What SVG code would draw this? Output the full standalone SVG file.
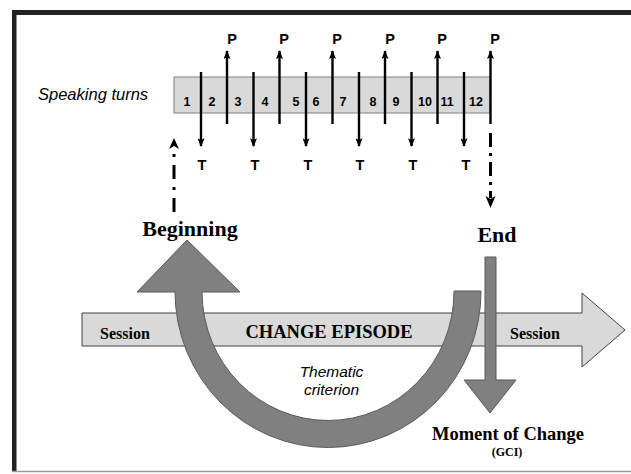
<svg xmlns="http://www.w3.org/2000/svg" width="631" height="474" viewBox="0 0 631 474">
  <style>
    .turn { font-family: "Liberation Sans", Arial, sans-serif; font-weight: bold; font-size: 12.5px; fill: #000; text-anchor: middle; }
    .pt { font-family: "Liberation Sans", Arial, sans-serif; font-weight: bold; font-size: 14.5px; fill: #000; text-anchor: middle; }
    .serifb { font-family: "Liberation Serif", "Times New Roman", serif; font-weight: bold; fill: #000; }
    .ital { font-family: "Liberation Sans", Arial, sans-serif; font-style: italic; fill: #000; }
    .tick { stroke: #000; stroke-width: 2.4; fill: none; marker-end: url(#head); }
    .dashdot { stroke: #000; stroke-width: 3; fill: none; }
    .bigarrow { fill: #808080; stroke: #595959; stroke-width: 1; }
  </style>
  <defs>
    <marker id="head" viewBox="0 0 10 8" refX="9" refY="4" markerWidth="9" markerHeight="7" markerUnits="userSpaceOnUse" orient="auto">
      <path d="M0,0 L10,4 L0,8 L2,4 Z" fill="#000"/>
    </marker>
  </defs>

  <!-- frame -->
  <g id="frame">
    <rect x="12" y="10" width="619" height="5" fill="#222"/>
    <rect x="12" y="10" width="4.5" height="462" fill="#222"/>
    <line x1="12" y1="471.5" x2="631" y2="471.5" stroke="#999" stroke-width="1.5"/>
  </g>

  <!-- speaking turns strip -->
  <g id="speaking-turns">
    <text class="ital" x="38" y="100" font-size="16.5">Speaking turns</text>
    <rect x="174" y="77" width="316" height="36" fill="#d9d9d9" stroke="#808080" stroke-width="1"/>
    <text class="turn" x="187" y="106">1</text>
    <text class="turn" x="212" y="106">2</text>
    <text class="turn" x="238" y="106">3</text>
    <text class="turn" x="265" y="106">4</text>
    <text class="turn" x="296" y="106">5</text>
    <text class="turn" x="316" y="106">6</text>
    <text class="turn" x="343" y="106">7</text>
    <text class="turn" x="373" y="106">8</text>
    <text class="turn" x="396" y="106">9</text>
    <text class="turn" x="425" y="106">10</text>
    <text class="turn" x="447" y="106">11</text>
    <text class="turn" x="476" y="106">12</text>
  </g>

  <!-- turn markers: therapist (T) down, patient (P) up -->
  <g id="turn-markers">
    <line class="tick" x1="201" y1="72" x2="201" y2="146"/>
    <line class="tick" x1="253.5" y1="72" x2="253.5" y2="146"/>
    <line class="tick" x1="306" y1="72" x2="306" y2="146"/>
    <line class="tick" x1="359" y1="72" x2="359" y2="146"/>
    <line class="tick" x1="411.5" y1="72" x2="411.5" y2="146"/>
    <line class="tick" x1="464" y1="72" x2="464" y2="146"/>
    <line class="tick" x1="227" y1="124" x2="227" y2="51"/>
    <line class="tick" x1="279.5" y1="124" x2="279.5" y2="51"/>
    <line class="tick" x1="332.5" y1="124" x2="332.5" y2="51"/>
    <line class="tick" x1="385" y1="124" x2="385" y2="51"/>
    <line class="tick" x1="437.5" y1="124" x2="437.5" y2="51"/>
    <line class="tick" x1="490.5" y1="124" x2="490.5" y2="51"/>
    <text class="pt" x="232" y="43.5">P</text>
    <text class="pt" x="284" y="43.5">P</text>
    <text class="pt" x="337" y="43.5">P</text>
    <text class="pt" x="390" y="43.5">P</text>
    <text class="pt" x="442" y="43.5">P</text>
    <text class="pt" x="495" y="43.5">P</text>
    <text class="pt" x="202" y="170">T</text>
    <text class="pt" x="255" y="170">T</text>
    <text class="pt" x="308" y="170">T</text>
    <text class="pt" x="360" y="170">T</text>
    <text class="pt" x="413" y="170">T</text>
    <text class="pt" x="466" y="170">T</text>
  </g>

  <!-- dash-dot links to episode boundaries -->
  <g id="connectors">
    <line class="dashdot" x1="174" y1="212" x2="174" y2="148" stroke-dasharray="14 8 3 8"/>
    <path d="M174,138 L179,149 L174,146 L169,149 Z" fill="#000"/>
    <line class="dashdot" x1="490.5" y1="133" x2="490.5" y2="198" stroke-dasharray="14 6 3 6"/>
    <path d="M490.5,208 L485.5,196 L490.5,199 L495.5,196 Z" fill="#000"/>
  </g>

  <!-- session timeline -->
  <g id="session">
    <polygon points="82,313 582,313 582,293 625,330 582,367 582,346 82,346" fill="#d9d9d9" stroke="#404040" stroke-width="1"/>
    <text class="serifb" x="100" y="339" font-size="16">Session</text>
    <text class="serifb" x="510" y="339" font-size="16">Session</text>
    <text class="serifb" x="329" y="338" font-size="18.5" text-anchor="middle">CHANGE EPISODE</text>
  </g>

  <!-- thematic loop back to the beginning -->
  <g id="thematic-loop">
    <path class="bigarrow" d="M137,292 L187,240 L240,292 L202,292 A126,129 0 0 0 454,291 L481,291 A153,156 0 0 1 175,292 Z"/>
    <text class="ital" x="331.5" y="377" font-size="15.5" text-anchor="middle">Thematic</text>
    <text class="ital" x="331.5" y="395" font-size="15.5" text-anchor="middle">criterion</text>
  </g>

  <g id="beginning">
    <text class="serifb" x="190" y="236" font-size="22" text-anchor="middle">Beginning</text>
  </g>

  <g id="end">
    <text class="serifb" x="497" y="242" font-size="22" text-anchor="middle">End</text>
  </g>

  <!-- moment of change -->
  <g id="moment-of-change">
    <path class="bigarrow" d="M485,257 L496,257 L496,380 L516,380 L490,413 L464,380 L485,380 Z"/>
    <text class="serifb" x="508" y="440" font-size="18.5" text-anchor="middle">Moment of Change</text>
    <text class="serifb" x="507" y="456" font-size="12" text-anchor="middle">(GCI)</text>
  </g>
</svg>
